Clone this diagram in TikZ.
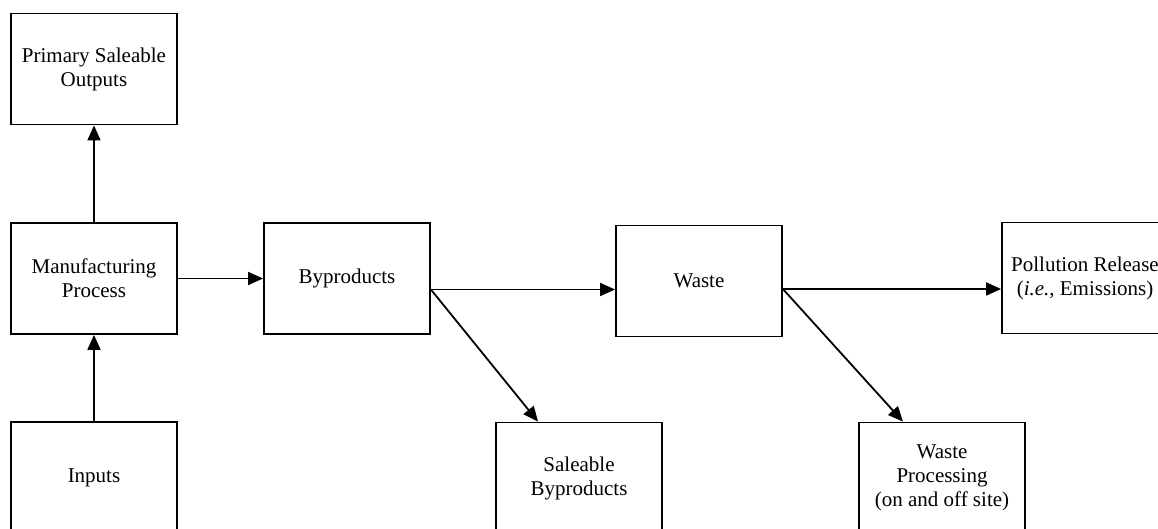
\documentclass[tikz,border=0pt]{standalone}
\usepackage{fontspec}
\setmainfont{Liberation Serif}
\usetikzlibrary{arrows.meta,positioning}

\begin{document}
\begin{tikzpicture}[x=0.5pt, y=-0.5pt,
  box/.style = {draw, line width=0.9pt, shape = rectangle, minimum width = 83pt, minimum height = 55.5pt, inner sep = 0pt, align = center, font = \fontsize{10.5}{12}\selectfont},
  flow/.style = {line width=0.9pt, -{Triangle[length=7.5pt, width=6.5pt]}}]
\useasboundingbox (0,0) rectangle (1158,529);

\node[box] (outputs) at (94,69) {Primary Saleable\\Outputs};
\node[box] (mfg) at (94,278.5) {Manufacturing\\Process};
\node[box] (inputs) at (94,477.5) {Inputs};
\node[box] (byprod) at (347,278.5) {Byproducts};
\node[box] (waste) at (699,281) {Waste};
\node[box] (pollution) at (1085,278) {Pollution Release\\(\textit{i.e.}, Emissions)};
\node[box] (saleable) at (579,478) {Saleable\\Byproducts};
\node[box] (wasteproc) at (942,478) {Waste\\Processing\\(on and off site)};

% branch points a little below the box centres
\coordinate (byprodout) at ([yshift=-5.5pt]byprod.east);
\coordinate (wasteout) at ([yshift=-4pt]waste.east);

\draw[flow] (inputs) -- (mfg);
\draw[flow] (mfg) -- (outputs);
\draw[flow] (mfg) -- (byprod);
\draw[flow] (byprodout) -- (byprodout -| waste.west);
\draw[flow] (byprodout) -- ([xshift=-20.5pt]saleable.north);
\draw[flow] (wasteout) -- (wasteout -| pollution.west);
\draw[flow] (wasteout) -- ([xshift=-19.5pt]wasteproc.north);
\end{tikzpicture}
\end{document}
